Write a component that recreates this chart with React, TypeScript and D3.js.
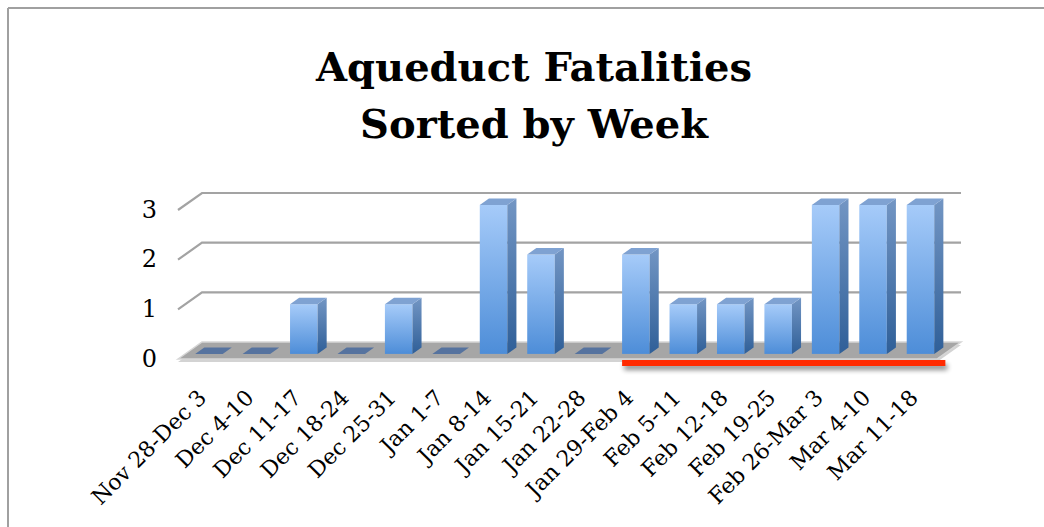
import React from "react";
import * as d3 from "d3";

const categories = [
  "Nov 28-Dec 3", "Dec 4-10", "Dec 11-17", "Dec 18-24", "Dec 25-31", "Jan 1-7",
  "Jan 8-14", "Jan 15-21", "Jan 22-28", "Jan 29-Feb 4", "Feb 5-11", "Feb 12-18",
  "Feb 19-25", "Feb 26-Mar 3", "Mar 4-10", "Mar 11-18",
];
const fatalities = [0, 0, 1, 0, 1, 0, 3, 2, 0, 2, 1, 1, 1, 3, 3, 3];
const yTicks = [0, 1, 2, 3];
const titleLines = ["Aqueduct Fatalities", "Sorted by Week"];
const highlightFrom = "Jan 29-Feb 4";
const highlightTo = "Mar 11-18";

export default function App() {
  const W = 1044, H = 527;
  const floorY = 359;
  const depth = { x: 24, y: -17 };
  const barF1 = 0.3, barF2 = 0.68;
  const x = d3.scaleBand<string>().domain(categories).range([178, 937]).paddingInner(0.42).paddingOuter(0.21);
  const y = d3.scaleLinear().domain([0, 3]).range([0, 149]);

  const off1 = { x: depth.x * barF1, y: depth.y * barF1 };
  const bd = { x: depth.x * (barF2 - barF1), y: depth.y * (barF2 - barF1) };
  const bw = x.bandwidth();

  const pts = (arr: number[][]) => arr.map((p) => p.join(",")).join(" ");
  const font = "'DejaVu Serif', 'Liberation Serif', serif";

  const hx0 = (x(highlightFrom) as number) + off1.x;
  const hx1 = (x(highlightTo) as number) + off1.x + bw + bd.x + 2;

  return (
    <svg width={W} height={H} style={{ position: "absolute", left: 0, top: 0 }}>
      <defs>
        <linearGradient id="front" x1="0" y1="0" x2="0" y2="1">
          <stop offset="0" stopColor="#a6cbf9" />
          <stop offset="1" stopColor="#4d8dd8" />
        </linearGradient>
        <linearGradient id="side" x1="0" y1="0" x2="0" y2="1">
          <stop offset="0" stopColor="#7396c4" />
          <stop offset="1" stopColor="#2f5f98" />
        </linearGradient>
        <filter id="shadow" x="-5%" y="-100%" width="110%" height="400%">
          <feGaussianBlur stdDeviation="2.5" />
        </filter>
      </defs>
      <rect x={0} y={0} width={W} height={H} fill="#fff" />
      <line x1={8} y1={8} x2={W} y2={8} stroke="#a0a0a0" strokeWidth={2} />
      <line x1={8} y1={8} x2={8} y2={H} stroke="#a0a0a0" strokeWidth={2} />

      {titleLines.map((t, i) => (
        <text key={t} x={534} y={81 + i * 57} textAnchor="middle" fontFamily={font}
          fontWeight="bold" fontSize={40} fill="#000">{t}</text>
      ))}

      {/* gridlines: left wall + back wall */}
      {yTicks.filter((v) => v > 0).map((v) => (
        <polyline key={v} fill="none" stroke="#a3a3a3" strokeWidth={2.2}
          points={pts([[178, floorY - y(v)], [178 + depth.x, floorY + depth.y - y(v)], [961, floorY + depth.y - y(v)]])} />
      ))}

      {/* floor */}
      <polygon points={pts([[178, floorY + 3], [178 + depth.x, floorY + depth.y + 3], [961, floorY + depth.y + 3], [937, floorY + 3]])}
        fill="#d3d3d3" />
      <polygon points={pts([[178, floorY], [178 + depth.x, floorY + depth.y], [961, floorY + depth.y], [937, floorY]])}
        fill="#a6a6a6" stroke="#d6d6d6" strokeWidth={1.5} />

      {/* y tick labels */}
      {yTicks.map((v) => (
        <text key={v} x={157} y={floorY - y(v) + 1} textAnchor="end" dominantBaseline="middle"
          fontFamily={font} fontSize={24} fill="#000">{v}</text>
      ))}

      {/* bars */}
      {categories.map((c, i) => {
        const v = fatalities[i];
        const fx = (x(c) as number) + off1.x;
        const by = floorY + off1.y;
        const ty = by - y(v);
        if (v === 0) {
          return (
            <polygon key={c} fill="#56739f"
              points={pts([[fx, by], [fx + bw, by], [fx + bw + bd.x, by + bd.y], [fx + bd.x, by + bd.y]])} />
          );
        }
        return (
          <g key={c}>
            <rect x={fx} y={ty} width={bw} height={by - ty} fill="url(#front)" />
            <polygon fill="url(#side)"
              points={pts([[fx + bw, by], [fx + bw, ty], [fx + bw + bd.x, ty + bd.y], [fx + bw + bd.x, by + bd.y]])} />
            <polygon fill="#7fa2d2"
              points={pts([[fx, ty], [fx + bw, ty], [fx + bw + bd.x, ty + bd.y], [fx + bd.x, ty + bd.y]])} />
          </g>
        );
      })}

      {/* red highlight */}
      <rect x={hx0 + 2} y={floorY + 5} width={hx1 - hx0} height={6} fill="#000" opacity={0.45} filter="url(#shadow)" />
      <rect x={hx0} y={floorY + 1} width={hx1 - hx0} height={6} fill="#ff2a00" />

      {/* x labels */}
      {categories.map((c) => {
        const cx = (x(c) as number) + bw / 2;
        return (
          <text key={c} transform={`translate(${cx + 6},${399}) rotate(-45)`} textAnchor="end"
            fontFamily={font} fontSize={22} fill="#000">{c}</text>
        );
      })}
    </svg>
  );
}
